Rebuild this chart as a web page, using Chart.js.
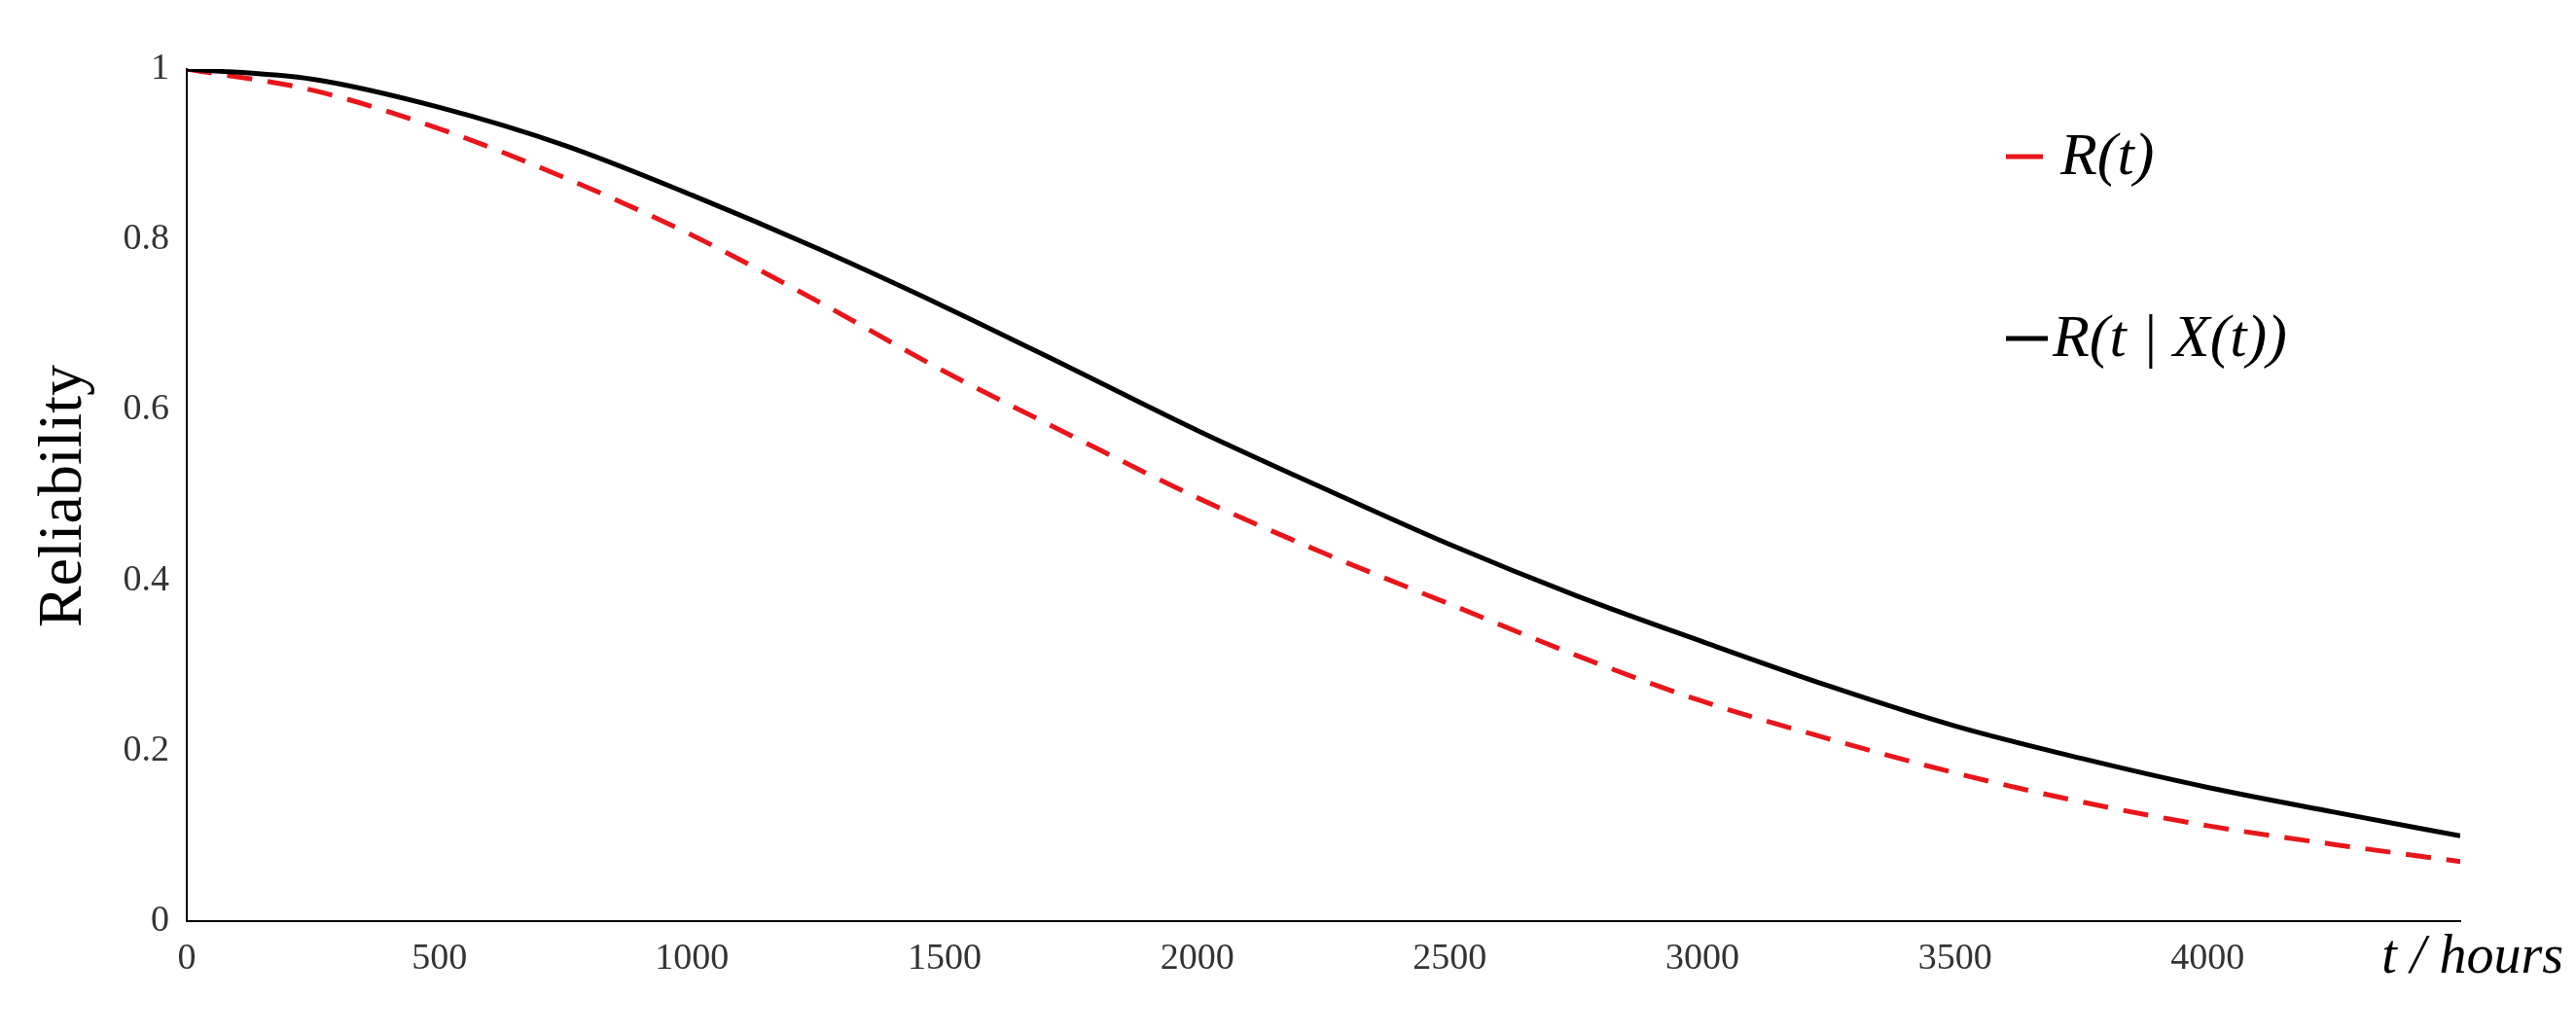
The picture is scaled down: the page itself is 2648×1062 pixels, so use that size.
<!DOCTYPE html>
<html><head><meta charset="utf-8">
<script src="https://cdn.jsdelivr.net/npm/chart.js@4"></script>
<style>html,body{margin:0;background:#fff}#w{width:2648px;height:1062px}</style>
</head><body><div id="w"><canvas id="c"></canvas></div>
<script>
const tValues = [0,250,500,750,1000,1250,1500,1750,2000,2250,2500,2750,3000,3250,3500,3750,4000,4250,4500];
const rValues = [1,0.975,0.93,0.872,0.805,0.727,0.645,0.57,0.497,0.432,0.372,0.312,0.258,0.214,0.174,0.14,0.112,0.09,0.07];
const rxValues = [1,0.988,0.955,0.91,0.852,0.789,0.721,0.649,0.576,0.508,0.442,0.382,0.328,0.276,0.229,0.191,0.157,0.128,0.10];
const xTicks = [0,500,1000,1500,2000,2500,3000,3500,4000];
const yTicks = [0,0.2,0.4,0.6,0.8,1];
const serif = "'Liberation Serif', 'DejaVu Serif', serif";
const extras = {id:'extras', afterDraw(ch){
  const c=ch.ctx; c.save(); c.fillStyle='#000';
  c.font="64px "+serif; c.textAlign='center'; c.textBaseline='middle';
  c.translate(66,510); c.rotate(-Math.PI/2); c.fillText('Reliability',0,0); c.restore();
  c.save(); c.font="italic 56px "+serif; c.textAlign='right'; c.textBaseline='alphabetic';
  c.fillText('t / hours',2635,1000);
  c.lineWidth=5; c.strokeStyle='#e8161b'; c.beginPath(); c.moveTo(2062,161); c.lineTo(2100,161); c.stroke();
  c.strokeStyle='#000'; c.beginPath(); c.moveTo(2062,348); c.lineTo(2105,348); c.stroke();
  c.font="italic 62px "+serif; c.textAlign='left'; c.textBaseline='middle';
  c.fillText('R(t)',2118,163); c.fillText('R(t | X(t))',2110,350);
  c.restore();
}};
new Chart(document.getElementById('c'),{type:'line',
 data:{labels:tValues,datasets:[
  {data:rxValues,borderColor:'#000',borderWidth:5,pointRadius:0,cubicInterpolationMode:'monotone',fill:false},
  {data:rValues,borderColor:'#e8161b',borderWidth:5,borderDash:[26,16],pointRadius:0,cubicInterpolationMode:'monotone',fill:false}]},
 options:{responsive:true,maintainAspectRatio:false,animation:false,
  layout:{padding:{top:71,right:119,left:0,bottom:0}},
  plugins:{legend:{display:false},tooltip:{enabled:false}},
  scales:{
   x:{type:'linear',min:0,max:4500,afterFit(s){s.height=115;},
      afterBuildTicks(s){s.ticks=xTicks.map(v=>({value:v}));},
      grid:{display:false,drawTicks:false},border:{color:'#000',width:2},
      ticks:{color:'#333',font:{family:serif,size:38},padding:16,callback:v=>String(v)}},
   y:{min:0,max:1,afterFit(s){s.width=192;},
      afterBuildTicks(s){s.ticks=yTicks.map(v=>({value:v}));},
      grid:{display:false,drawTicks:false},border:{color:'#000',width:2},
      ticks:{color:'#333',font:{family:serif,size:38},padding:18,callback:v=>String(v)}}
  }},
 plugins:[extras]});
</script></body></html>
